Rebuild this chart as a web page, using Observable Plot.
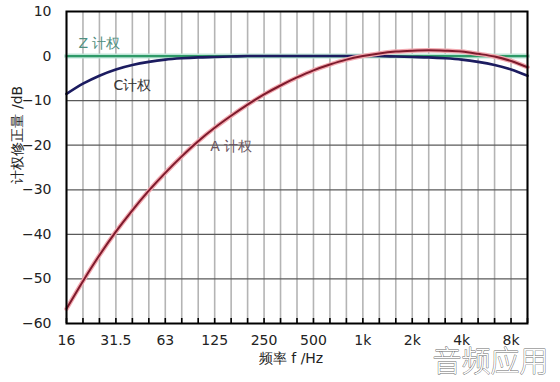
<!DOCTYPE html>
<html><head><meta charset="utf-8">
<script src="https://cdn.jsdelivr.net/npm/d3@7"></script>
<script src="https://cdn.jsdelivr.net/npm/@observablehq/plot@0.6"></script>
<style>body{margin:0;background:#fff}</style>
</head><body><div id="chart"></div>
<script>
const bands = ["16","20","25","31.5","40","50","63","80","100","125","160","200","250","315","400","500","630","800","1k","1.25k","1.6k","2k","2.5k","3.15k","4k","5k","6.3k","8k","10k"];
const labeledBands = ["16","31.5","63","125","250","500","1k","2k","4k","8k"];
const aWeight = [-56.7,-50.5,-44.7,-39.4,-34.6,-30.2,-26.2,-22.5,-19.1,-16.1,-13.4,-10.9,-8.6,-6.6,-4.8,-3.2,-1.9,-0.8,0,0.6,1.0,1.2,1.3,1.2,1.0,0.5,-0.1,-1.1,-2.5];
const cWeight = [-8.5,-6.2,-4.4,-3.0,-2.0,-1.3,-0.8,-0.5,-0.3,-0.2,-0.1,0,0,0,0,0,0,0,0,0,-0.1,-0.2,-0.3,-0.5,-0.8,-1.3,-2.0,-3.0,-4.4];
const zWeight = [0,0,0,0,0,0,0,0,0,0,0,0,0,0,0,0,0,0,0,0,0,0,0,0,0,0,0,0,0];
const yTicks = [-60,-50,-40,-30,-20,-10,0,10];
const seriesLabels = [
  {text:"Z 计权", band:"25", value:2.9, color:"#4f8f80"},
  {text:"C计权", band:"40", value:-6.7, color:"#333333"},
  {text:"A 计权", band:"160", value:-20.2, color:"#6a5560"}
];
const xTitle = "频率 f /Hz";
const yTitle = "计权修正量 /dB";
const watermark = "音频应用";

const idx = b => bands.indexOf(b);
const rows = (vals) => vals.map((v,i)=>({i, v}));
const A = rows(aWeight), C = rows(cWeight), Z = rows(zWeight);
const allIdx = bands.map((b,i)=>i);

const chart = Plot.plot({
  width: 560, height: 382,
  marginLeft: 66, marginRight: 33, marginTop: 11, marginBottom: 59,
  style: {fontFamily: "DejaVu Sans", fontSize: "13px", color: "#222", background: "#fff"},
  x: {domain: [0, bands.length - 1]},
  y: {domain: [-60, 10]},
  marks: [
    Plot.ruleX(allIdx, {stroke: "#b4b4b4", strokeWidth: 1.6}),
    Plot.ruleY(yTicks.slice(1, -1), {stroke: "#5a5a5a", strokeWidth: 1.3}),
    Plot.axisX({ticks: allIdx, tickSize: 5, tickFormat: () => "", label: null, dy: -5, stroke: "#000", strokeWidth: 1.6}),
    Plot.axisX({ticks: labeledBands.map(idx), tickSize: 0, tickPadding: 12, tickFormat: i => bands[i], label: null, fill: "#222", fontSize: 14}),
    Plot.axisY({ticks: yTicks, tickSize: 0, tickPadding: 15, label: null, fill: "#222", fontSize: 14}),
    Plot.line(Z, {x: "i", y: "v", stroke: "#bfe6d8", strokeWidth: 5}),
    Plot.line(Z, {x: "i", y: "v", stroke: "#2f9a68", strokeWidth: 2.2}),
    Plot.line(C, {x: "i", y: "v", stroke: "#1c1c60", strokeWidth: 2.6, curve: "catmull-rom"}),
    Plot.line(A, {x: "i", y: "v", stroke: "#f2a9b0", strokeWidth: 4.5, curve: "catmull-rom"}),
    Plot.line(A, {x: "i", y: "v", stroke: "#7e1a2c", strokeWidth: 2, curve: "catmull-rom"}),
    Plot.text(seriesLabels, {x: d => idx(d.band), y: "value", text: "text", fill: "color", fontSize: 14}),
    Plot.frame({stroke: "#000", strokeWidth: 2}),
    Plot.text([xTitle], {frameAnchor: "bottom", dy: 39, dx: -6, fontSize: 14, fill: "#222"}),
    Plot.text([yTitle], {frameAnchor: "left", dx: -49, dy: 16, rotate: -90, fontSize: 14, fill: "#222"}),
    Plot.text([watermark], {frameAnchor: "bottom-right", dx: 21, dy: 48, textAnchor: "end", fontSize: 29, fontFamily: "Noto Sans CJK SC", fontWeight: 300, fill: "#fff", stroke: "#6a6a6a", strokeWidth: 0.9})
  ]
});
document.getElementById("chart").append(chart);
</script>
</body></html>
